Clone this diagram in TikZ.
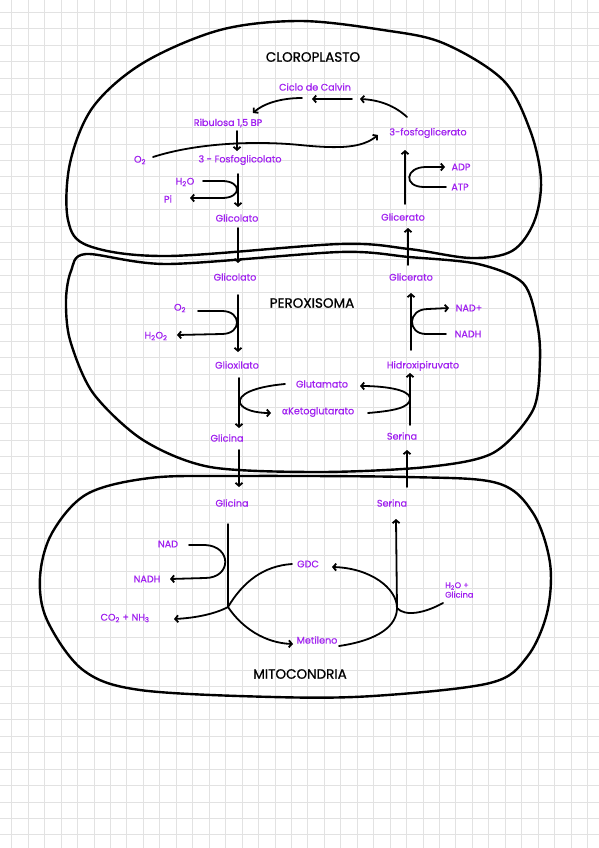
\documentclass[tikz,border=0pt]{standalone}
\usepackage{fontspec}
\setmainfont{Poppins}
\newfontfamily\labfam[FakeBold=0.6]{Poppins}
\newfontfamily\ttlfam[FakeBold=1.0]{Poppins}
\newfontfamily\greekfont[FakeBold=0.6]{DejaVu Sans}
\usetikzlibrary{arrows.meta}
\definecolor{labpurple}{RGB}{160,32,240}
\definecolor{gridgray}{RGB}{226,226,226}
\newcommand{\labfont}{\labfam\fontsize{9.6}{11}\selectfont}
\newcommand{\ttlfont}{\ttlfam\fontsize{13.5}{15}\selectfont}
\tikzset{
  lab/.style={text=labpurple, font=\labfont, inner sep=1pt},
  ttl/.style={text=black, font=\ttlfont, inner sep=1pt},
  arr/.style={line width=1.8pt, line cap=round, -{Straight Barb[length=3pt,width=7pt]}},
  ln/.style={line width=1.8pt, line cap=round},
  outline/.style={line width=2.4pt, line join=round},
  gridline/.style={draw=gridgray, line width=0.8pt}
}
\begin{document}
\begin{tikzpicture}[x=1pt,y=-1pt]
\useasboundingbox (0,0) rectangle (599,848);
\fill[white] (0,0) rectangle (599,848);
% grid
\foreach \i in {0,...,35} {\pgfmathsetmacro\gx{11.7+16.45*\i}\draw[gridline] (\gx,0) -- (\gx,848);}
\foreach \i in {0,...,50} {\pgfmathsetmacro\gy{12.3+16.45*\i}\draw[gridline] (0,\gy) -- (599,\gy);}

% outlines
\draw[outline] plot[smooth cycle, tension=0.55] coordinates {
 (68,220) (70,163) (93,107) (143,63) (220,30) (300,21) (383,30) (443,43) (503,80) (530,130) (541,180) (534,222) (512,251) (471,258) (409,249) (340,244) (168,256) (89,246)};
\draw[outline] plot[smooth cycle, tension=0.5] coordinates {
 (86,254) (168,264) (340,252) (409,257) (478,264) (523,283) (537,323) (540,360) (533,410) (493,453) (427,467) (320,472) (210,467) (143,440) (93,393) (70,340) (66,300) (71,271)};
\draw[outline] plot[smooth cycle, tension=0.55] coordinates {
 (150,478) (233,476) (407,477) (497,483) (533,513) (550,563) (547,613) (527,657) (490,683) (373,696) (273,697) (140,690) (83,670) (47,620) (40,577) (52,533) (87,494)};

% ---------- chloroplast ----------
\node[ttl] (cloro) at (313,57) {CLOROPLASTO};
\node[lab] (calvin) at (315,87) {Ciclo de Calvin};
\node[lab] (rib) at (228,123) {Ribulosa 1,5 BP};
\node[lab] (fgr) at (428,133) {3-fosfoglicerato};
\node[lab] (o2c) at (140,160) {O\textsubscript{2}};
\node[lab] (fgc) at (240,160) {3 - Fosfoglicolato};
\node[lab] (h2oc) at (185,182) {H\textsubscript{2}O};
\node[lab] (pic) at (168,199) {Pi};
\node[lab] (glcC) at (237,218) {Glicolato};
\node[lab] (gliC) at (403,217) {Glicerato};
\node[lab] (adp) at (461,167) {ADP};
\node[lab] (atp) at (460,187) {ATP};

\coordinate (c1a) at (407,117);
\coordinate (c1b) at (360,99);
\coordinate (c2a) at (352,99);
\coordinate (c2b) at (312,99);
\coordinate (c3a) at (302,98);
\coordinate (c3b) at (253,113);
\draw[arr] (c1a) .. controls (395,106) and (380,100) .. (c1b);
\draw[arr] (c2a) -- (c2b);
\draw[arr] (c3a) .. controls (280,98) and (263,104) .. (c3b);
\coordinate (o2start) at (153,157);
\coordinate (o2end) at (378,135);
\draw[arr] (o2start) .. controls (200,142) and (260,141) .. (300,145) .. controls (340,149) and (362,148) .. (o2end);
\draw[arr] (237,131) -- (237,151);
\draw[arr] (238,174) -- (238,207);
\coordinate (h2ocs) at (203,181);
\coordinate (pice) at (190,198);
\draw[arr] (h2ocs) -- (222,181) .. controls (242,181) and (242,198) .. (222,198) -- (pice);
\draw[arr] (238,228) -- (238,263);
\draw[arr] (408,265) -- (408,228);
\draw[arr] (405,204) -- (405,150);
\coordinate (atps) at (446,187);
\coordinate (adpe) at (445,167);
\draw[arr] (atps) -- (424,187) .. controls (403,187) and (405,167) .. (426,167) -- (adpe);

% ---------- peroxisome ----------
\node[ttl] (perox) at (312,303) {PEROXISOMA};
\node[lab] (glcP) at (235,277) {Glicolato};
\node[lab] (gliP) at (411,277) {Glicerato};
\node[lab] (o2p) at (180,308) {O\textsubscript{2}};
\node[lab] (h2o2) at (156,336) {H\textsubscript{2}O\textsubscript{2}};
\node[lab] (glx) at (237,365) {Glioxilato};
\node[lab] (nadp) at (469,308) {NAD+};
\node[lab] (nadh) at (468,334) {NADH};
\node[lab] (hid) at (423,366) {Hidroxipiruvato};
\node[lab] (glu) at (322,384) {Glutamato};
\node[lab] (akg) at (318,412) {{\greekfont α}Ketoglutarato};
\node[lab] (glyP) at (227,438) {Glicina};
\node[lab] (serP) at (402,436) {Serina};

\draw[arr] (238,295) -- (238,352);
\coordinate (o2ps) at (198,311);
\coordinate (h2o2e) at (177,335);
\draw[arr] (o2ps) -- (222,311) .. controls (242,311) and (242,334) .. (222,334) -- (h2o2e);
\draw[arr] (239,378) -- (239,428);
\coordinate (glus) at (285,384);
\coordinate (akge) at (271,413);
\draw[arr] (glus) .. controls (252,387) and (238,395) .. (240,403) .. controls (243,410) and (256,413) .. (akge);
\draw[arr] (410,425) -- (410,373);
\coordinate (akgs) at (368,413);
\coordinate (glue) at (360,386);
\draw[arr] (akgs) .. controls (392,411) and (411,408) .. (410,398) .. controls (409,389) and (382,386) .. (glue);
\draw[arr] (411,350) -- (411,293);
\coordinate (nadhs) at (446,334);
\coordinate (nadpe) at (449,308);
\draw[arr] (nadhs) -- (426,334) .. controls (407,334) and (407,309) .. (428,309) -- (nadpe);
\draw[arr] (239,450) -- (239,487);
\draw[arr] (407,487) -- (407,450);

% ---------- mitochondria ----------
\node[ttl] (mito) at (300,674) {MITOCONDRIA};
\node[lab] (glyM) at (232,503) {Glicina};
\node[lab] (serM) at (392,503) {Serina};
\node[lab] (nadM) at (168,544) {NAD};
\node[lab] (nadhM) at (147,579) {NADH};
\node[lab] (gdc) at (308,564) {GDC};
\node[lab, anchor=west, align=left, font=\labfam\fontsize{8.2}{9.5}\selectfont] (h2og) at (444,590) {H\textsubscript{2}O +\\Glicina};
\node[lab] (co2) at (125,618) {CO\textsubscript{2} + NH\textsubscript{3}};
\node[lab] (met) at (317,640) {Metileno};

\coordinate (J1) at (228,607);
\coordinate (J2) at (397,608);
\draw[ln, line width=1.5pt] (228,524) -- (J1);
\coordinate (nads) at (189,545);
\coordinate (nadhe) at (170,579);
\draw[arr] (nads) -- (205,545) .. controls (232,546) and (232,578) .. (205,578) -- (nadhe);
\draw[arr] (J1) .. controls (215,614) and (195,618) .. (174,619);
\draw[ln] (J1) .. controls (243,582) and (263,566) .. (292,564);
\draw[arr] (J1) .. controls (242,628) and (265,643) .. (293,644);
\coordinate (mets) at (339,646);
\coordinate (gdce) at (332,567);
\draw[arr] (mets) .. controls (380,640) and (397,625) .. (J2) .. controls (397,588) and (370,568) .. (gdce);
\draw[arr] (J2) -- (396,519);
\coordinate (h2ogs) at (443,603);
\draw[ln] (h2ogs) .. controls (425,613) and (405,617) .. (J2);
\end{tikzpicture}
\end{document}
